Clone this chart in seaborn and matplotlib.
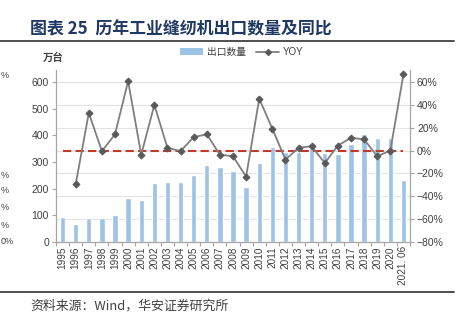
import numpy as np
import pandas as pd
import matplotlib
matplotlib.use("Agg")
import matplotlib.pyplot as plt
import seaborn as sns
from matplotlib.lines import Line2D
from matplotlib.patches import Patch

years = ["1995", "1996", "1997", "1998", "1999", "2000", "2001", "2002", "2003",
         "2004", "2005", "2006", "2007", "2008", "2009", "2010", "2011", "2012",
         "2013", "2014", "2015", "2016", "2017", "2018", "2019", "2020", "2021. 06"]
exports = [95, 67, 89, 89, 101, 164, 157, 220, 226, 224, 251, 289, 280, 266,
           207, 297, 355, 339, 336, 355, 332, 329, 367, 405, 389, 391, 232]
yoy = [np.nan, -29.6, 32.9, -0.5, 14.2, 60.7, -3.6, 40.0, 2.4, -0.5, 11.8, 14.2,
       -3.6, -5.0, -22.8, 45.3, 19.2, -8.0, 2.4, 3.8, -11.0, 4.4, 11.2, 9.8,
       -5.0, 0.0, 66.7]
zero_ref = [0.0] * len(years)
left_ticks = [0, 100, 200, 300, 400, 500, 600]
right_ticks = [-80, -60, -40, -20, 0, 20, 40, 60]

sns.set_theme(style="white")
plt.rcParams['font.family'] = ['Liberation Sans', 'Noto Sans CJK SC', 'DejaVu Sans']

df = pd.DataFrame({"year": years, "exports": exports, "yoy": yoy,
                   "idx": np.arange(len(years)), "zero": zero_ref})

W, H = 464, 322
fig = plt.figure(figsize=(W / 100, H / 100), dpi=100)
ax = fig.add_axes([56 / W, 1 - 242 / H, (410 - 56) / W, (242 - 70) / H])
ax2 = ax.twinx()

sns.barplot(data=df, x="year", y="exports", color="#9DC3E6", saturation=1,
            width=0.4, ax=ax, zorder=2)
ax.set_xlim(-0.42, 26.45)
ax.set_ylim(0, 645)
ax.set_yticks(left_ticks)
ax.set_xlabel("")
ax.set_ylabel("")

ax2.set_ylim(-80, 70.5)
ax2.set_yticks(right_ticks)
ax2.set_yticklabels([f"{t}%".replace("-", "\u2212") for t in right_ticks])
for t in right_ticks:
    ax.axhline((t + 80) / 150.5 * 645, color="#E3E3E3", lw=0.8, zorder=0)

sns.lineplot(data=df, x="idx", y="zero", ax=ax2, color="#C0392B", lw=1.5,
             linestyle=(0, (4, 2)), zorder=3)
sns.lineplot(data=df, x="idx", y="yoy", ax=ax2, color="#7F7F7F", lw=1.3,
             marker="D", markersize=3.5, markerfacecolor="#595959",
             markeredgecolor="#595959", zorder=4)
ax2.set_xlim(-0.42, 26.45)
ax2.set_xlabel("")
ax2.set_ylabel("")

for a in (ax, ax2):
    for s in a.spines.values():
        s.set_visible(False)
ax.spines["left"].set_visible(True)
ax.spines["bottom"].set_visible(True)
ax2.spines["right"].set_visible(True)
for s in (ax.spines["left"], ax.spines["bottom"], ax2.spines["right"]):
    s.set_color("#A6A6A6")
    s.set_linewidth(0.9)

ax.tick_params(axis="y", labelsize=7.5, colors="#404040", length=3,
               width=0.8, color="#A6A6A6", pad=2, left=True)
ax2.tick_params(axis="y", labelsize=7.5, colors="#404040", length=3,
                width=0.8, color="#A6A6A6", pad=2, right=True)
ax.tick_params(axis="x", labelsize=7.2, colors="#404040", length=0, pad=3,
               rotation=90, bottom=True)
ax.set_xticks(np.arange(-0.5, 27, 1), minor=True)
ax.tick_params(axis="x", which="minor", length=3, width=0.8, color="#A6A6A6",
               bottom=True)
for lbl in ax.get_xticklabels():
    lbl.set_verticalalignment("top")

# Title and frame
fig.text(30 / W, 1 - 29 / H, "图表 25  历年工业缝纫机出口数量及同比",
         fontsize=12.2, fontweight="bold", color="#1F3864", ha="left", va="center",
         family=['Noto Sans CJK SC', 'DejaVu Sans'])
fig.add_artist(Line2D([0, 454 / W], [1 - 41 / H, 1 - 41 / H], color="#404040",
                      lw=1.3, transform=fig.transFigure))
fig.add_artist(Line2D([0, 454 / W], [1 - 292 / H, 1 - 292 / H], color="#404040",
                      lw=1.3, transform=fig.transFigure))
fig.text(30 / W, 1 - 306 / H, "资料来源：Wind，华安证券研究所", fontsize=9.3,
         color="#404040", ha="left", va="center",
         family=['Noto Sans CJK SC', 'DejaVu Sans'])

fig.text(53 / W, 1 - 58 / H, "万台", fontsize=7.5, color="#404040",
         ha="center", va="center", fontweight="bold",
         family=['Noto Sans CJK SC', 'DejaVu Sans'])

# Legend
handles = [Patch(facecolor="#9DC3E6", edgecolor="none"),
           Line2D([], [], color="#7F7F7F", lw=1.3, marker="D", markersize=3,
                  markerfacecolor="#595959", markeredgecolor="#595959")]
fig.legend(handles, ["出口数量", "YOY"], loc="center", ncol=2,
           bbox_to_anchor=(242 / W, 1 - 52 / H), frameon=False, fontsize=7,
           handlelength=2.4, handleheight=0.6, columnspacing=1.0,
           handletextpad=0.4, labelcolor="#404040")

# Fragments of a neighbouring chart at the left edge
for yy, txt in [(75, "%"), (175, "%"), (191, "%"), (208, "%"), (225, "%"), (241, "0%")]:
    fig.text(1 / W, 1 - yy / H, txt, fontsize=6.5, color="#404040", ha="left",
             va="center")

fig.savefig("out.png", dpi=100)
